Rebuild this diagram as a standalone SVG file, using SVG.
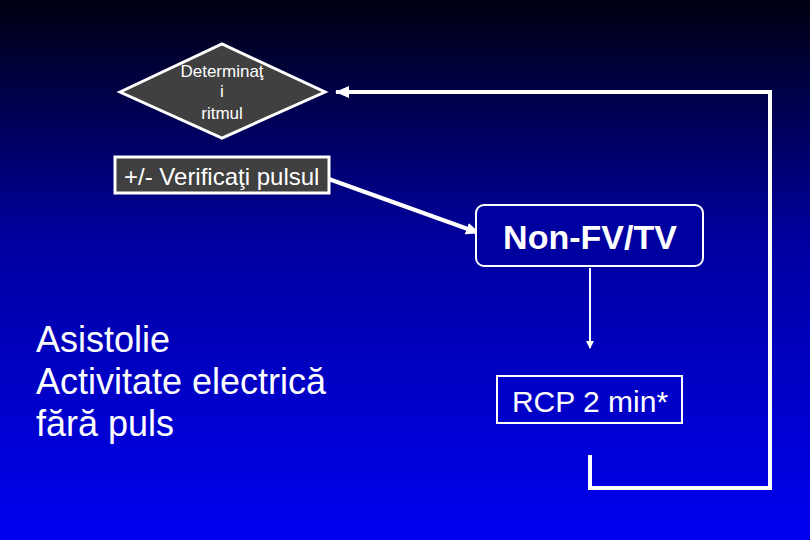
<svg xmlns="http://www.w3.org/2000/svg" width="810" height="540" viewBox="0 0 810 540">
<defs>
<linearGradient id="bg" x1="0" y1="0" x2="0" y2="1">
<stop offset="0" stop-color="#000010"/>
<stop offset="0.45" stop-color="#0000a0"/>
<stop offset="1" stop-color="#0000f0"/>
</linearGradient>
<marker id="ah" markerWidth="8" markerHeight="8" refX="7" refY="4" orient="auto" markerUnits="userSpaceOnUse" viewBox="0 0 8 8">
<path d="M0,0 L8,4 L0,8 z" fill="#fff"/>
</marker>
<marker id="ah2" markerWidth="14" markerHeight="14" refX="13" refY="7" orient="auto" markerUnits="userSpaceOnUse" viewBox="0 0 14 14">
<path d="M0,1 L14,7 L0,13 z" fill="#fff"/>
</marker>
<style>
text{font-family:"Liberation Sans",Arial,sans-serif;fill:#fff}
.ln{stroke:#fff;stroke-width:4;fill:none}
</style>
</defs>
<rect width="810" height="540" fill="url(#bg)"/>
<g id="connectors">
<polyline class="ln" points="590,455 590,488 770,488 770,92 336,92" marker-end="url(#ah2)"/>
<line class="ln" x1="326" y1="178" x2="479" y2="233" marker-end="url(#ah2)"/>
<line x1="590" y1="268" x2="590" y2="348" stroke="#fff" stroke-width="2" marker-end="url(#ah)"/>
</g>
<g id="decide">
<polygon points="120,92 222,44 325,92 222,138" fill="#404040" stroke="#fff" stroke-width="3"/>
<text x="222" y="77" font-size="17" text-anchor="middle">Determinaţ</text>
<text x="222" y="97" font-size="17" text-anchor="middle">i</text>
<text x="222" y="119" font-size="17" text-anchor="middle">ritmul</text>
</g>
<g id="pulse">
<rect x="115" y="157" width="214" height="36" fill="#404040" stroke="#fff" stroke-width="3"/>
<text x="124" y="185" font-size="24">+/- Verificaţi pulsul</text>
</g>
<g id="nonfv">
<rect x="476" y="205" width="227" height="61" rx="8" fill="#0000a0" stroke="#fff" stroke-width="2"/>
<text x="590" y="249" font-size="34" font-weight="bold" text-anchor="middle">Non-FV/TV</text>
</g>
<g id="rcp">
<rect x="497" y="376" width="185" height="47" fill="#0000c8" stroke="#fff" stroke-width="2"/>
<text x="590" y="412" font-size="30" text-anchor="middle">RCP 2 min*</text>
</g>
<g id="label">
<text x="36" y="352" font-size="36">Asistolie</text>
<text x="36" y="394" font-size="36">Activitate electrică</text>
<text x="36" y="436" font-size="36">fără puls</text>
</g>
</svg>
